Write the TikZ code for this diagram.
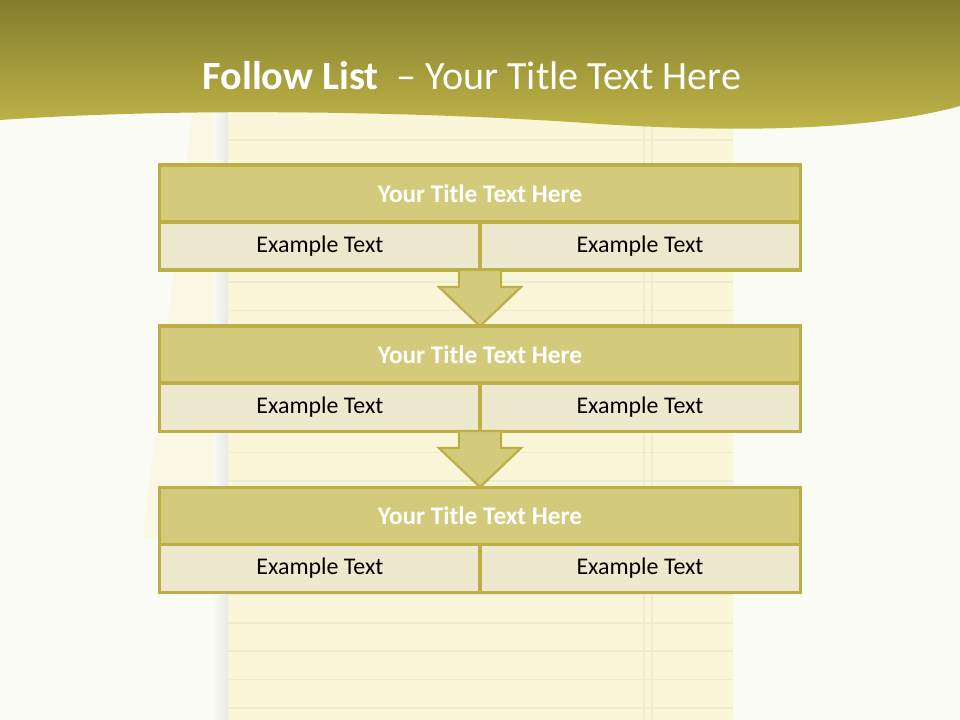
\documentclass[tikz,border=0pt]{standalone}
\usepackage{fontspec}
\setmainfont{Carlito}
\usetikzlibrary{calc,positioning}

\definecolor{pagebg}{HTML}{FBFBF5}
\definecolor{paper}{HTML}{FAF6D9}
\definecolor{paperline}{HTML}{EFEBCE}
\definecolor{bandtop}{HTML}{837D2C}
\definecolor{bandbot}{HTML}{C2B74A}
\definecolor{boxline}{HTML}{BCAF47}
\definecolor{titlefill}{HTML}{D3CB7B}
\definecolor{cellfill}{HTML}{EDE9CF}

\begin{document}
\begin{tikzpicture}[
                x=0.025cm, y=-0.025cm,
                node distance=1.4cm,
                every node/.append style={outer sep=0pt,inner sep=0pt},
                titlebar/.style={draw=boxline,fill=titlefill,line width=2.2pt,
                    minimum width=16cm,minimum height=1.425cm,text=white,
                    font=\fontsize{18}{21}\selectfont\bfseries},
                cellbox/.style={draw=boxline,fill=cellfill,line width=2.2pt,
                    minimum width=8cm,minimum height=1.2cm,
                    font=\fontsize{17}{20}\selectfont},
                downarrow/.style={draw=boxline,fill=titlefill,line width=1.6pt,line join=miter}
            ]
                \useasboundingbox (0,0) rectangle (960,720);
                % page and note pad
                \fill[pagebg] (0,0) rectangle (960,720);
                \fill[paper!55!pagebg] (192,112) -- (228,112) -- (228,540) -- (143,538) -- cycle;
                \shade[left color=pagebg,right color=black!9] (213,112) rectangle (228,720);
                \fill[paper] (228,100) rectangle (733,720);
                \foreach \k in {-6,...,15}
                    \draw[paperline,line width=1pt] (228,{282+28.4*\k}) -- (733,{282+28.4*\k});
                \draw[paperline,line width=1pt] (644,100) -- (644,720) (652,100) -- (652,720);
                % title band
                \shade[top color=bandtop,bottom color=bandbot] (0,0) -- (960,0) -- (960,106)
                    .. controls (880,128) and (760,134) .. (600,124)
                    .. controls (450,113) and (200,106) .. (0,120) -- cycle;
                \node[text=white,font=\fontsize{28.5}{32}\selectfont] (head) at (472,76)
                    {\textbf{Follow List}\ \ – Your Title Text Here};
                % list
                \node[titlebar] (t1) at (480,193.5) {Your Title Text Here};
                \node[cellbox,below right=0cm and 0cm of t1.south west] (a1) {Example Text};
                \node[cellbox,right=0cm of a1] (b1) {Example Text};
                \node[titlebar,below=of a1.south east] (t2) {Your Title Text Here};
                \node[cellbox,below right=0cm and 0cm of t2.south west] (a2) {Example Text};
                \node[cellbox,right=0cm of a2] (b2) {Example Text};
                \node[titlebar,below=of a2.south east] (t3) {Your Title Text Here};
                \node[cellbox,below right=0cm and 0cm of t3.south west] (a3) {Example Text};
                \node[cellbox,right=0cm of a3] (b3) {Example Text};
                % arrows
                \draw[downarrow] ($(a1.south east)+(-0.525cm,0)$) -- ++(0,-0.425cm) -- ++(-0.5cm,0)
                    -- (t2.north) -- ($(a1.south east)+(1.025cm,-0.425cm)$) -- ++(-0.5cm,0) -- ++(0,0.425cm) -- cycle;
                \draw[downarrow] ($(a2.south east)+(-0.525cm,0)$) -- ++(0,-0.425cm) -- ++(-0.5cm,0)
                    -- (t3.north) -- ($(a2.south east)+(1.025cm,-0.425cm)$) -- ++(-0.5cm,0) -- ++(0,0.425cm) -- cycle;
            \end{tikzpicture}
\end{document}
